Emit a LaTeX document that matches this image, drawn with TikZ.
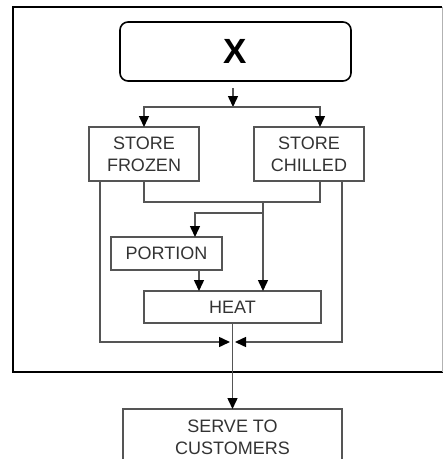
\documentclass[tikz,border=0pt]{standalone}
\usepackage{fontspec}
\setmainfont{Liberation Sans}
\usetikzlibrary{arrows.meta,calc}
\definecolor{ln}{HTML}{555555}
\definecolor{tx}{HTML}{333333}
\begin{document}
\begin{tikzpicture}[x=1pt,y=-1pt,
 box/.style={draw=ln,line width=1.5pt,inner sep=0pt,outer sep=0pt,text=tx,font=\fontsize{18}{22}\selectfont,align=center},
 con/.style={draw=ln,line width=1.5pt},
 arr/.style={con,-{Triangle[width=10pt,length=11pt,color=black]}},
]
\useasboundingbox (0,0) rectangle (443,459);
\clip (0,0) rectangle (443,459);
% frame
\draw[line width=2.8pt] (442,7) -- (13,7) -- (13,372) -- (443,372);
\draw[line width=0.8pt,black!30] (442,7) -- (442,372);
% nodes
\node[draw=black,line width=1.6pt,rounded corners=8pt,inner sep=0pt,minimum width=231pt,minimum height=59pt,font=\fontsize{35}{40}\selectfont\bfseries] (xbox) at (235.5,51.5) {X};
\node[box,minimum width=110pt,minimum height=54pt] (frozen) at (144,154) {STORE\\FROZEN};
\node[box,minimum width=110pt,minimum height=54pt] (chilled) at (309,154) {STORE\\CHILLED};
\node[box,minimum width=111pt,minimum height=33pt] (portion) at (166.5,253.5) {PORTION};
\node[box,minimum width=177pt,minimum height=32pt] (heat) at (232.5,307) {HEAT};
\node[box,minimum width=219pt,minimum height=56pt] (serve) at (232.5,437) {SERVE TO\\CUSTOMERS};
% coordinates
\coordinate (j1) at (233,107);
\coordinate (cin) at (320,127);
\coordinate (fz1) at (100,181);
\coordinate (ch1) at (320,181);
\coordinate (ch2) at (342,181);
\coordinate (j2) at (263,202);
\coordinate (j3) at (263,213);
\coordinate (pin) at (195,237);
\coordinate (pout) at (199,270);
\coordinate (ml) at (230,342);
\coordinate (mr) at (235,342);
% connectors
\draw[arr,shorten <=6pt] (xbox.south -| j1) -- (j1);
\draw[arr] (j1) -| (frozen.north);
\draw[arr] (j1) -| (cin);
\draw[con] (frozen.south) |- (j2) -| (ch1);
\draw[arr] (j2) -- (heat.north -| j2);
\draw[arr] (j3) -| (pin);
\draw[arr] (pout) -- (heat.north -| pout);
\draw[arr] (fz1) |- (ml);
\draw[arr] (ch2) |- (mr);
\draw[arr] (heat.south) -- (serve.north);
\end{tikzpicture}
\end{document}
